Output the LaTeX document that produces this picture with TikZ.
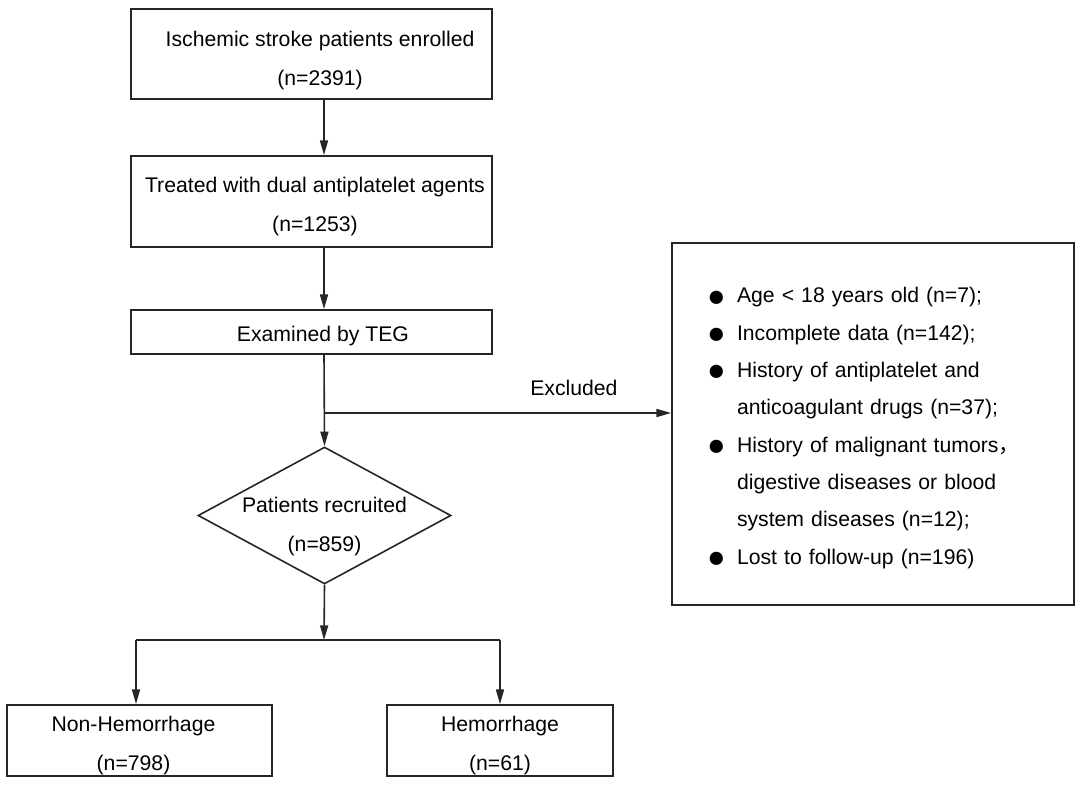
\documentclass[tikz,border=0pt]{standalone}
\usepackage{fontspec}
\usepackage{graphicx}
\setmainfont{Liberation Sans}
\newfontfamily\cjk{Noto Sans CJK SC}
\usetikzlibrary{arrows.meta,shapes.geometric}
\newcommand{\mybul}{\makebox[22.5pt][l]{\raisebox{-0.16em}{\scalebox{1.45}{●}}}}
\newcommand{\myind}{\hspace*{22.5pt}}
\begin{document}
\begin{tikzpicture}[x=0.75pt,y=-0.75pt,
  txt/.style={align=center, font=\fontsize{15.9}{29.25}\selectfont, inner sep=0pt},
  box/.style={draw=black!85, line width=1.3pt, rectangle, inner sep=0pt},
  arr/.style={draw=black!85, line width=1.2pt, -{Triangle[length=11pt,width=6pt]}},
  conn/.style={draw=black!85, line width=1.2pt}]
\useasboundingbox (0,0) rectangle (1080,787);
% boxes
\node[box, minimum width={361*0.75pt}, minimum height={90*0.75pt},
  label={[txt, xshift=6.4pt, yshift=-5pt]center:{Ischemic stroke patients enrolled\\(n=2391)}}]
  (b1) at (311.5,54) {};
\node[box, minimum width={361*0.75pt}, minimum height={91*0.75pt},
  label={[txt, xshift=2.6pt, yshift=-3.4pt]center:{Treated with dual antiplatelet agents\\(n=1253)}}]
  (b2) at (311.5,201.5) {};
\node[box, minimum width={361*0.75pt}, minimum height={44*0.75pt},
  label={[txt, xshift=8.6pt, yshift=-3pt]center:{Examined by TEG}}]
  (b3) at (311.5,332) {};
\node[draw=black!85, line width=1.2pt, diamond, minimum width={253*0.75pt},
  minimum height={137*0.75pt}, inner sep=0pt,
  label={[txt, yshift=-8pt]center:{Patients recruited\\(n=859)}}] (d) at (324.5,515.5) {};
\node[box, minimum width={402*0.75pt}, minimum height={362*0.75pt},
  label={[txt, align=left, text width={332*0.75pt}, font=\fontsize{15.9}{28}\selectfont,
    yshift=-3pt]center:{\mybul Age < 18 years old (n=7);\\
   \mybul Incomplete data (n=142);\\
   \mybul History of antiplatelet and\\
   \myind anticoagulant drugs (n=37);\\
   \mybul History of malignant tumors{\cjk ，}\\
   \myind digestive diseases or blood\\
   \myind system diseases (n=12);\\
   \mybul Lost to follow-up (n=196)}}] (ex) at (873,424) {};
\node[box, minimum width={265*0.75pt}, minimum height={71*0.75pt},
  label={[txt, xshift=-4.5pt, yshift=-3.4pt]center:{Non-Hemorrhage\\(n=798)}}]
  (nh) at (139.5,740.5) {};
\node[box, minimum width={226*0.75pt}, minimum height={71*0.75pt},
  label={[txt, yshift=-3.4pt]center:{Hemorrhage\\(n=61)}}]
  (hm) at (500,740.5) {};
% connectors
\coordinate (ax) at (324,0);
\coordinate (ex1) at (324,413);
\coordinate (split) at (324,640);
\coordinate (sl) at (136,640);
\coordinate (sr) at (500,640);
\draw[arr] (b1.south -| ax) -- (b2.north -| ax);
\draw[arr] (b2.south -| ax) -- (b3.north -| ax);
\draw[arr] (b3.south -| ax) -- (d.north);
\draw[arr] (ex1) -- (ex.west |- ex1)
  node[pos=0.72, yshift=19pt, txt] {Excluded};
\draw[arr] (d.south) -- (split);
\draw[conn] (sl) -- (sr);
\draw[arr] (sl) -- (nh.north -| sl);
\draw[arr] (sr) -- (hm.north -| sr);
\end{tikzpicture}
\end{document}
